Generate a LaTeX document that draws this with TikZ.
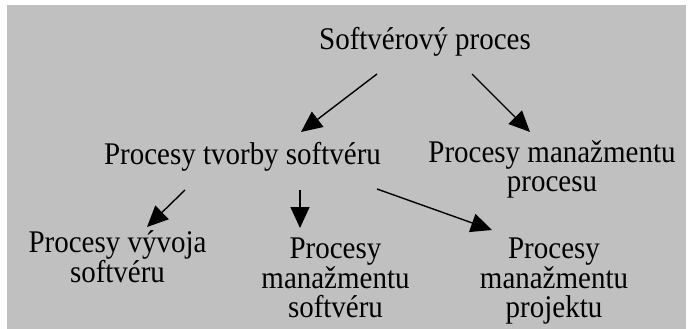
\documentclass[tikz,border=0pt]{standalone}
\usepackage{fontspec}
\setmainfont{Liberation Serif}[FakeStretch=0.92]
\usetikzlibrary{arrows.meta,calc}
\definecolor{bggray}{HTML}{C0C0C0}
\begin{document}
\begin{tikzpicture}[x=1pt,y=-1pt,
  lbl/.style={inner sep=0pt,anchor=base,align=center,font=\fontsize{31.5}{28.5}\selectfont},
  arr/.style={line width=1.4pt,-{Triangle[length=21pt,width=19pt]}}]
\useasboundingbox (0,0) rectangle (688,329);
\fill[bggray] (7,5) rectangle (686,329);
% base anchor of a multi-line node = baseline of its last line
\node[lbl] (top) at (425,50) {Softvérový proces};
\node[lbl] (tvorby) at (242.5,164) {Procesy tvorby softvéru};
\node[lbl] (mproc) at (552,191) {Procesy manažmentu\\procesu};
\node[lbl] (vyvoja) at (117.5,282.5) {Procesy vývoja\\softvéru};
\node[lbl] (msoft) at (335.5,317) {Procesy\\manažmentu\\softvéru};
\node[lbl] (mproj) at (554,317) {Procesy\\manažmentu\\projektu};
\draw[arr] ($(top.base)+(-48,24)$) -- ($(tvorby.base)+(58.5,-32)$);
\draw[arr] ($(top.base)+(47,24)$) -- ($(mproc.base)+(-22,-59)$);
\draw[arr] ($(tvorby.base)+(-57.5,26)$) -- ($(vyvoja.base)+(29.5,-55.5)$);
\draw[arr] ($(tvorby.base)+(57.5,26)$) -- ($(msoft.base)+(-35.5,-89)$);
\draw[arr] ($(tvorby.base)+(134.5,25)$) -- ($(mproj.base)+(-62,-87)$);
\end{tikzpicture}
\end{document}
